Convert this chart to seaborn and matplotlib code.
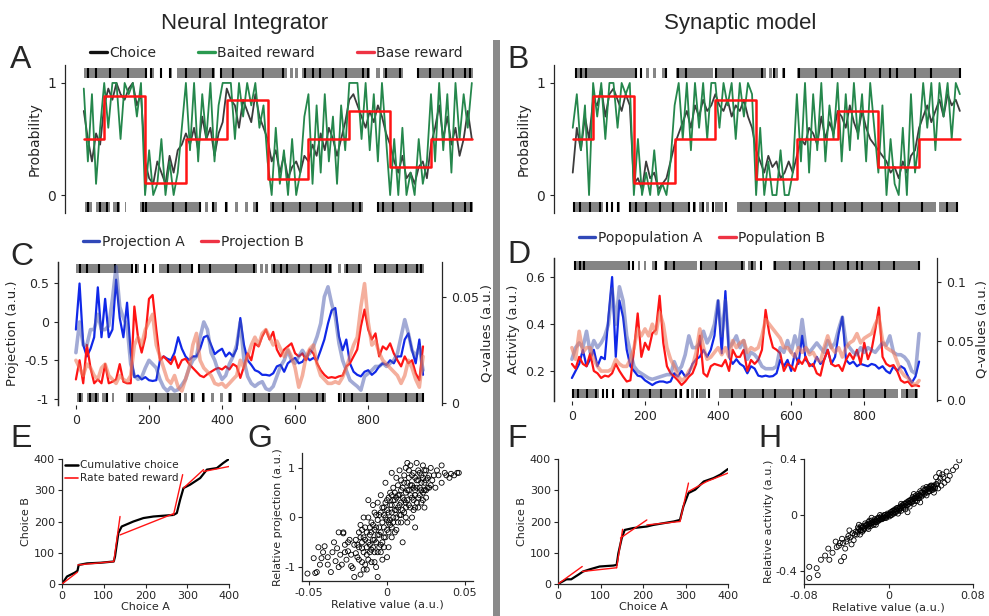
import numpy as np
import pandas as pd
import matplotlib
matplotlib.use("Agg")
import matplotlib.pyplot as plt
from matplotlib.lines import Line2D
from matplotlib.patches import Rectangle
import seaborn as sns

W, H = 989, 616

# ---------------- data ----------------
trials = np.arange(0, 960, 10)
block_edges = [0, 50, 150, 250, 350, 450, 550, 650, 750, 850, 950]
base_reward = [0.5, 0.88, 0.11, 0.5, 0.85, 0.14, 0.5, 0.75, 0.25, 0.5]

# neural integrator session
choice_ni = [0.75, 0.5, 0.3, 0.55, 0.45,
             0.8, 0.95, 0.85, 1.0, 0.9, 0.85, 0.95, 1.0, 0.8, 0.9,
             0.3, 0.15, 0.1, 0.3, 0.2, 0.1, 0.35, 0.2, 0.4, 0.45,
             0.55, 0.45, 0.6, 0.4, 0.7, 0.5, 0.6, 0.35, 0.55, 0.65,
             0.95, 0.85, 0.8, 0.6, 0.85, 0.75, 0.65, 0.9, 0.7, 0.6,
             0.5, 0.3, 0.4, 0.2, 0.35, 0.15, 0.25, 0.3, 0.2, 0.35,
             0.3, 0.45, 0.35, 0.55, 0.4, 0.6, 0.5, 0.35, 0.5, 0.65,
             0.85, 0.9, 0.8, 0.7, 0.6, 0.75, 0.65, 0.8, 0.7, 0.55,
             0.45, 0.3, 0.2, 0.35, 0.15, 0.2, 0.1, 0.25, 0.3, 0.15,
             0.45, 0.6, 0.8, 0.5, 0.7, 0.45, 0.6, 0.35, 0.5, 0.75, 0.5]
baited_ni = [0.95, 0.3, 0.9, 0.1, 0.6,
             1.0, 0.6, 1.0, 1.0, 0.5, 1.0, 0.9, 1.0, 0.7, 1.0,
             0.0, 0.4, 0.0, 0.1, 0.5, 0.0, 0.3, 0.0, 0.2, 0.6,
             1.0, 0.4, 1.0, 0.3, 0.9, 0.5, 1.0, 0.3, 0.8, 1.0,
             1.0, 1.0, 0.5, 1.0, 0.7, 1.0, 0.8, 1.0, 0.6, 0.8,
             0.3, 0.0, 0.6, 0.1, 0.4, 0.0, 0.5, 0.0, 0.2, 0.7,
             0.9, 0.1, 0.8, 0.2, 0.9, 0.3, 0.7, 0.1, 0.8, 0.4,
             1.0, 1.0, 1.0, 0.5, 1.0, 0.4, 0.9, 0.3, 1.0, 0.5,
             0.0, 0.5, 0.0, 0.6, 0.0, 0.2, 0.0, 0.5, 0.1, 0.3,
             0.9, 0.3, 1.0, 0.4, 0.9, 0.2, 1.0, 0.5, 0.9, 0.6, 1.0]
proj_a = [-0.1, 0.5, -0.3, -0.45, -0.35, -0.2, 0.45, -0.2, 0.3, -0.2,
          -0.1, 0.55, 0.05, -0.2, 0.25, -0.4, -0.72, -0.7, -0.75, -0.72,
          -0.76, -0.77, -0.76, -0.5, -0.45, -0.48, -0.5, -0.4, -0.2, -0.35,
          -0.45, -0.5, -0.45, -0.45, -0.35, -0.2, -0.18, -0.3, -0.42, -0.38,
          -0.35, -0.45, -0.4, -0.45, -0.35, 0.05, -0.3, -0.5, -0.56, -0.63,
          -0.65, -0.69, -0.69, -0.7, -0.67, -0.58, -0.56, -0.65, -0.54, -0.5,
          -0.47, -0.54, -0.52, -0.45, -0.5, -0.47, -0.5, -0.37, -0.23, -0.02,
          0.15, 0.18, -0.19, -0.37, -0.23, -0.54, -0.65, -0.69, -0.71, -0.65,
          -0.63, -0.69, -0.65, -0.58, -0.54, -0.56, -0.5, -0.54, -0.45, -0.45,
          -0.23, -0.15, -0.37, -0.54, -0.23, -0.69]
proj_b = [-0.75, -0.5, -0.8, -0.3, -0.6, -0.8, -0.75, -0.8, -0.55, -0.8,
          -0.78, -0.75, -0.55, -0.78, -0.8, -0.8, 0.2, -0.2, -0.4, -0.2,
          0.3, 0.35, -0.1, -0.5, -0.45, -0.5, -0.55, -0.45, -0.6, -0.5,
          -0.48, -0.55, -0.6, -0.65, -0.7, -0.72, -0.68, -0.65, -0.62, -0.6,
          -0.62, -0.58, -0.62, -0.55, -0.58, -0.73, -0.58, -0.41, -0.5, -0.28,
          -0.32, -0.19, -0.1, -0.23, -0.13, -0.36, -0.45, -0.36, -0.32, -0.28,
          -0.41, -0.45, -0.41, -0.5, -0.36, -0.41, -0.54, -0.63, -0.69, -0.73,
          -0.72, -0.73, -0.71, -0.7, -0.58, -0.54, -0.45, -0.36, -0.06, 0.16,
          -0.1, -0.23, -0.15, -0.45, -0.32, -0.36, -0.28, -0.41, -0.5, -0.58,
          -0.45, -0.54, -0.5, -0.67, -0.76, -0.32]
qval_a_ni = [0.0239, 0.0384, 0.0275, 0.0275, 0.0348, 0.0348, 0.042, 0.0348, 0.0348, 0.0366,
             0.0493, 0.0645, 0.0456, 0.0402, 0.0366, 0.0185, 0.0131, 0.0113, 0.0123, 0.0167,
             0.0203, 0.0185, 0.0167, 0.0113, 0.0076, 0.0058, 0.0076, 0.0058, 0.0065, 0.0087,
             0.0113, 0.0167, 0.0203, 0.0221, 0.0312, 0.0384, 0.0348, 0.0239, 0.0203, 0.0149,
             0.0113, 0.0131, 0.0185, 0.0221, 0.0275, 0.0384, 0.0203, 0.0127, 0.0094, 0.008,
             0.0094, 0.0102, 0.0069, 0.0062, 0.008, 0.0127, 0.0174, 0.0203, 0.025, 0.0203,
             0.0189, 0.0221, 0.025, 0.0221, 0.0236, 0.0268, 0.0315, 0.0377, 0.0503, 0.055,
             0.047, 0.0409, 0.0283, 0.0203, 0.0156, 0.0109, 0.0094, 0.008, 0.0062, 0.0127,
             0.0141, 0.0156, 0.0174, 0.0174, 0.0189, 0.0174, 0.0189, 0.0203, 0.0236, 0.0315,
             0.0395, 0.033, 0.025, 0.0221, 0.0268, 0.0156]
qval_b_ni = [0.0203, 0.0167, 0.0131, 0.0185, 0.0167, 0.0131, 0.0113, 0.0167, 0.0185, 0.0131,
             0.0113, 0.0094, 0.0131, 0.0113, 0.0102, 0.0131, 0.0275, 0.0312, 0.0275, 0.0348,
             0.0384, 0.042, 0.0275, 0.0221, 0.0167, 0.0113, 0.0094, 0.0131, 0.0076, 0.0058,
             0.0113, 0.0167, 0.0275, 0.033, 0.0203, 0.0167, 0.0149, 0.0131, 0.0094, 0.0087,
             0.0094, 0.0076, 0.0094, 0.0113, 0.0131, 0.0203, 0.0167, 0.0221, 0.0275, 0.0312,
             0.0275, 0.033, 0.0348, 0.0312, 0.0275, 0.0294, 0.0257, 0.0221, 0.0257, 0.0221,
             0.0167, 0.0076, 0.0131, 0.0221, 0.0257, 0.0275, 0.0185, 0.0131, 0.0113, 0.0094,
             0.0094, 0.0102, 0.0094, 0.0123, 0.0167, 0.0221, 0.0275, 0.0312, 0.0456, 0.0565,
             0.0384, 0.0275, 0.0294, 0.0239, 0.0203, 0.0185, 0.0167, 0.0149, 0.0131, 0.0094,
             0.0131, 0.0203, 0.0167, 0.0113, 0.0076, 0.0221]
ni_top_runs = [(0, 153), (166, 172), (188, 192), (211, 215), (227, 321), (333, 497),
               (505, 511), (517, 525), (533, 700), (716, 725), (733, 782), (819, 952)]
ni_top_rew = [11, 31, 64, 108, 153, 165, 190, 212, 251, 284, 317, 337, 366, 439, 488,
              541, 561, 578, 610, 643, 684, 696, 741, 774, 819, 847, 880, 904, 933, 945]
ni_bot_runs = [(2, 19), (31, 64), (72, 88), (100, 104), (137, 288), (296, 304), (317, 325),
               (349, 353), (370, 378), (394, 402), (415, 427), (455, 684), (717, 729), (733, 952)]
ni_bot_rew = [11, 39, 56, 84, 145, 153, 219, 251, 284, 317, 349, 423, 464, 488, 529,
              570, 610, 659, 676, 721, 733, 757, 798, 855, 904, 933, 949]

# synaptic model session
choice_sm = [0.2, 0.6, 0.4, 0.7, 0.5,
             0.85, 0.8, 0.95, 0.7, 0.9, 0.95, 0.85, 0.75, 0.9, 0.8,
             0.1, 0.15, 0.05, 0.3, 0.15, 0.2, 0.05, 0.1, 0.15, 0.3,
             0.45, 0.55, 0.65, 0.75, 0.6, 0.8, 0.7, 0.85, 0.75, 0.8,
             0.9, 0.8, 0.75, 0.85, 0.7, 0.8, 0.75, 0.85, 0.7, 0.6,
             0.4, 0.3, 0.2, 0.35, 0.25, 0.3, 0.15, 0.2, 0.3, 0.2,
             0.35, 0.5, 0.45, 0.6, 0.55, 0.45, 0.7, 0.5, 0.65, 0.55,
             0.75, 0.7, 0.6, 0.8, 0.65, 0.55, 0.75, 0.6, 0.5, 0.45,
             0.4, 0.35, 0.3, 0.2, 0.25, 0.15, 0.3, 0.2, 0.35, 0.4,
             0.6, 0.7, 0.8, 0.65, 0.75, 0.85, 0.7, 0.9, 0.8, 0.85, 0.75]
baited_sm = [0.6, 0.9, 0.4, 0.8, 0.0,
             1.0, 0.7, 1.0, 0.5, 1.0, 1.0, 0.6, 1.0, 0.9, 1.0,
             0.0, 0.5, 0.0, 0.2, 0.0, 0.4, 0.0, 0.1, 0.0, 0.3,
             0.8, 1.0, 0.5, 1.0, 0.4, 1.0, 0.6, 1.0, 0.5, 1.0,
             1.0, 0.6, 1.0, 0.8, 1.0, 0.5, 1.0, 0.7, 1.0, 0.9,
             0.0, 0.6, 0.0, 0.3, 0.0, 0.0, 0.4, 0.0, 0.0, 0.2,
             0.9, 0.3, 1.0, 0.2, 0.9, 0.4, 1.0, 0.3, 0.8, 0.5,
             1.0, 0.3, 0.9, 0.4, 1.0, 0.5, 0.9, 0.3, 1.0, 0.6,
             0.2, 0.8, 0.0, 0.5, 0.1, 0.0, 0.6, 0.0, 0.9, 0.2,
             0.5, 1.0, 0.6, 1.0, 0.4, 1.0, 0.7, 1.0, 0.5, 1.0, 0.9]
act_a = [0.17, 0.2, 0.23, 0.29, 0.22, 0.25, 0.29, 0.22, 0.26, 0.25,
         0.43, 0.6, 0.26, 0.5, 0.43, 0.29, 0.22, 0.2, 0.18, 0.176,
         0.16, 0.15, 0.14, 0.15, 0.155, 0.155, 0.15, 0.155, 0.19, 0.176,
         0.2, 0.176, 0.19, 0.23, 0.25, 0.26, 0.29, 0.26, 0.29, 0.35,
         0.5, 0.275, 0.54, 0.26, 0.23, 0.25, 0.23, 0.22, 0.19, 0.22,
         0.21, 0.18, 0.176, 0.18, 0.176, 0.178, 0.19, 0.247, 0.22, 0.247,
         0.2, 0.275, 0.23, 0.35, 0.247, 0.23, 0.22, 0.26, 0.23, 0.247,
         0.29, 0.23, 0.26, 0.36, 0.43, 0.247, 0.23, 0.24, 0.22, 0.23,
         0.225, 0.22, 0.23, 0.225, 0.21, 0.22, 0.2, 0.19, 0.22, 0.2,
         0.22, 0.21, 0.176, 0.15, 0.176, 0.24]
act_b = [0.23, 0.21, 0.26, 0.23, 0.22, 0.275, 0.2, 0.19, 0.17, 0.18,
         0.176, 0.19, 0.23, 0.2, 0.176, 0.155, 0.16, 0.29, 0.445, 0.26,
         0.32, 0.29, 0.36, 0.375, 0.52, 0.32, 0.22, 0.19, 0.176, 0.16,
         0.14, 0.155, 0.176, 0.19, 0.23, 0.35, 0.19, 0.176, 0.22, 0.23,
         0.225, 0.22, 0.247, 0.2, 0.29, 0.26, 0.26, 0.29, 0.2, 0.247,
         0.23, 0.247, 0.29, 0.46, 0.36, 0.3, 0.29, 0.275, 0.2, 0.23,
         0.22, 0.2, 0.247, 0.23, 0.26, 0.22, 0.23, 0.19, 0.18, 0.247,
         0.29, 0.23, 0.22, 0.225, 0.2, 0.247, 0.275, 0.25, 0.29, 0.23,
         0.32, 0.25, 0.29, 0.375, 0.47, 0.26, 0.23, 0.22, 0.225, 0.2,
         0.16, 0.15, 0.155, 0.135, 0.14, 0.135]
qval_a_sm = [0.0346, 0.0445, 0.0485, 0.0445, 0.0584, 0.0405, 0.0505, 0.0445, 0.0485, 0.0545,
             0.0644, 0.0943, 0.0644, 0.0962, 0.0843, 0.0545, 0.0405, 0.0286, 0.0246, 0.0226,
             0.0206, 0.0186, 0.0176, 0.0186, 0.0196, 0.0206, 0.0216, 0.0216, 0.0326, 0.0246,
             0.0286, 0.0385, 0.0545, 0.0445, 0.0445, 0.0485, 0.0584, 0.0485, 0.0545, 0.0644,
             0.0843, 0.0545, 0.0843, 0.0445, 0.0485, 0.0545, 0.0445, 0.0505, 0.0346, 0.0405,
             0.0385, 0.0346, 0.0286, 0.0266, 0.0266, 0.0266, 0.0286, 0.0445, 0.0405, 0.0505,
             0.0405, 0.0545, 0.0445, 0.0684, 0.0445, 0.0405, 0.0445, 0.0485, 0.0445, 0.0405,
             0.0505, 0.0445, 0.0485, 0.0604, 0.0704, 0.0485, 0.0445, 0.0405, 0.0385, 0.0445,
             0.0405, 0.0445, 0.0425, 0.0405, 0.0445, 0.0485, 0.0465, 0.0545, 0.0405, 0.0385,
             0.0385, 0.0365, 0.0326, 0.0246, 0.0226, 0.0564]
qval_b_sm = [0.0445, 0.0346, 0.0584, 0.0405, 0.0445, 0.0445, 0.0346, 0.0286, 0.0246, 0.0246,
             0.0246, 0.0266, 0.0346, 0.0306, 0.0286, 0.0286, 0.0346, 0.0445, 0.0604, 0.0545,
             0.0604, 0.0545, 0.0644, 0.0564, 0.0744, 0.0644, 0.0445, 0.0346, 0.0286, 0.0206,
             0.0166, 0.0186, 0.0246, 0.0286, 0.0405, 0.0604, 0.0445, 0.0346, 0.0365, 0.0405,
             0.0445, 0.0385, 0.0445, 0.0365, 0.0505, 0.0445, 0.0485, 0.0505, 0.0405, 0.0445,
             0.0425, 0.0445, 0.0545, 0.0684, 0.0644, 0.0604, 0.0564, 0.0525, 0.0445, 0.0445,
             0.0405, 0.0365, 0.0445, 0.0405, 0.0445, 0.0385, 0.0405, 0.0346, 0.0326, 0.0445,
             0.0545, 0.0445, 0.0405, 0.0445, 0.0365, 0.0445, 0.0485, 0.0505, 0.0564, 0.0485,
             0.0525, 0.0545, 0.0564, 0.0644, 0.0704, 0.0505, 0.0445, 0.0425, 0.0405, 0.0326,
             0.0246, 0.0206, 0.0186, 0.0147, 0.0127, 0.0166]
sm_top_runs = [(5, 156), (164, 171), (180, 186), (198, 204), (220, 229), (253, 343),
               (350, 474), (482, 490), (496, 504), (514, 521), (551, 950)]
sm_top_rew = [9, 21, 33, 155, 168, 229, 258, 278, 352, 393, 465, 494, 518, 555, 596,
              636, 677, 718, 755, 779, 795, 840, 880, 950]
sm_bot_runs = [(1, 74), (82, 86), (95, 99), (111, 115), (139, 286), (294, 302), (311, 319),
               (327, 335), (348, 368), (402, 892), (900, 946)]
sm_bot_rew = [2, 17, 42, 66, 84, 97, 112, 141, 156, 180, 213, 245, 286, 298, 319, 343,
              376, 437, 474, 522, 555, 604, 636, 669, 710, 759, 800, 857, 918, 942]

# cumulative choices (E, F)
cum_a_ni = [0, 12, 24, 30, 37, 40, 60, 92, 124, 127, 135, 143, 171, 195, 219, 267, 275,
            283, 291, 307, 331, 347, 371, 386, 400]
cum_b_ni = [0, 24, 32, 36, 42, 61, 66, 68, 72, 88, 163, 184, 200, 211, 216, 221, 227,
            270, 307, 318, 339, 366, 371, 387, 400]
rate_x0_ni = [0, 38, 124, 139, 267, 291, 339]
rate_y0_ni = [0, 61, 72, 157, 221, 307, 360]
rate_x1_ni = [37, 124, 139, 267, 289, 339, 400]
rate_y1_ni = [38, 72, 216, 225, 350, 366, 376]
cum_a_sm = [0, 20, 31, 47, 59, 75, 98, 130, 138, 142, 150, 157, 177, 209, 224, 272, 287,
            295, 307, 323, 343, 366, 382, 400]
cum_b_sm = [0, 15, 15, 29, 40, 47, 56, 59, 61, 98, 147, 173, 179, 184, 189, 200, 205,
            248, 291, 302, 328, 339, 350, 368]
rate_x0_sm = [0, 57, 138, 147, 209, 287, 307, 350]
rate_y0_sm = [0, 40, 52, 147, 189, 200, 296, 328]
rate_x1_sm = [57, 138, 152, 209, 287, 307, 350, 400]
rate_y1_sm = [56, 52, 175, 205, 200, 323, 328, 355]

# scatter G
rel_value_g = [-0.051, -0.046, -0.045, -0.042, -0.044, -0.040, -0.038, -0.036, -0.035, -0.033,
               -0.032, -0.030, -0.029, -0.028, -0.027, -0.026, -0.025, -0.024, -0.023, -0.022,
               -0.021, -0.020, -0.038, -0.034, -0.031, -0.041, -0.047, -0.043, -0.031, -0.028,
               -0.019, -0.018, -0.018, -0.017, -0.016, -0.015, -0.015, -0.014, -0.013, -0.012,
               -0.012, -0.011, -0.010, -0.010, -0.009, -0.017, -0.014, -0.011, -0.016,
               -0.008, -0.008, -0.007, -0.006, -0.006, -0.005, -0.005, -0.004, -0.004, -0.003,
               -0.003, -0.002, -0.002, -0.001, -0.001, 0.000, 0.000, 0.001, 0.001, 0.002,
               0.002, 0.003, 0.003, 0.004, 0.004, 0.005, 0.005, 0.006, 0.006, 0.007,
               0.007, 0.008, 0.008, 0.009, 0.009, -0.009, -0.007, 0.000, -0.012, -0.015,
               0.010, 0.003, -0.006, -0.013,
               0.010, 0.011, 0.011, 0.012, 0.012, 0.013, 0.013, 0.014, 0.014, 0.015,
               0.015, 0.016, 0.016, 0.017, 0.017, 0.018, 0.018, 0.019, 0.019, 0.020,
               0.020, 0.021, 0.022, 0.022, 0.023, 0.023, 0.024, 0.025, 0.025, 0.026,
               0.027, 0.028, 0.029, 0.018, 0.024, 0.013,
               0.031, 0.033, 0.035, 0.035, 0.037, 0.038, 0.040, 0.041, 0.043, 0.045,
               0.046, 0.032, 0.030,
               -0.020, -0.019, -0.018, -0.017, -0.016, -0.015, -0.014, -0.013, -0.012, -0.011,
               -0.010, -0.010, -0.009, -0.009, -0.008, -0.008, -0.007, -0.007, -0.006, -0.006,
               -0.005, -0.005, -0.004, -0.004, -0.003, -0.003, -0.002, -0.002, -0.001, -0.001,
               0.000, 0.000, 0.001, 0.001, 0.002, 0.002, 0.003, 0.003, 0.004, 0.004,
               0.005, 0.005, 0.006, 0.006, 0.007, 0.007, 0.008, 0.008, 0.009, 0.009,
               0.010, 0.010, 0.011, 0.011, 0.012, 0.012, 0.013, 0.013, 0.014, 0.014,
               0.015, 0.015, 0.016, 0.016, 0.017, 0.017, 0.018, 0.018, 0.019, 0.019,
               0.020, 0.020, 0.021, 0.021, 0.022, 0.022, 0.023, 0.023, 0.024, 0.024,
               0.025, 0.025, 0.026, 0.027, 0.028, -0.016, -0.013, -0.011, -0.008, -0.004,
               -0.002, 0.001, 0.003, 0.006, 0.009, 0.012, -0.021, -0.023, -0.025, -0.027]
rel_proj_g = [-1.13, -1.12, -1.10, -0.82, -0.60, -0.58, -0.95, -1.10, -0.70, -0.88,
              -0.62, -0.75, -0.95, -0.30, -0.55, -0.85, -0.68, -0.45, -0.98, -1.02,
              -1.20, -0.72, -0.80, -0.50, -1.00, -0.70, -0.82, -0.95, -0.30, -0.32,
              -0.55, -0.30, -0.85, -0.15, -0.62, -1.05, -0.40, -0.20, -0.75, -0.50,
              0.00, -0.35, -0.90, -0.10, -0.60, -1.15, -0.95, -0.70, -0.25,
              -0.45, 0.10, -0.20, -0.70, 0.30, -0.35, 0.05, -0.55, 0.45, -0.10,
              -0.85, 0.20, -0.40, 0.00, 0.70, -0.25, 0.35, -0.60, 0.10, 0.50,
              -0.15, 0.25, -0.40, 0.60, 0.00, 0.35, -0.30, 0.15, 0.80, -0.10,
              0.45, 0.25, 0.95, 0.05, 0.55, 0.25, -1.00, -0.80, 0.35, 0.00,
              -0.50, 0.90, -1.20, -1.05,
              0.40, 0.70, 0.10, 0.30, 1.00, 0.55, -0.10, 0.80, 0.25, 0.45,
              1.05, 0.65, 0.00, 0.35, 0.90, 0.55, 0.20, 0.75, 1.10, 0.40,
              0.95, 0.60, 0.30, 0.85, 0.50, 1.05, 0.70, 0.55, 0.95, 0.80,
              0.60, 1.00, 0.75, -0.20, 0.20, 1.10,
              0.60, 0.85, 1.05, 0.70, 0.90, 0.85, 0.80, 0.88, 0.85, 0.90,
              0.90, 0.95, 0.85,
              -0.45, -0.80, -0.60, -0.40, -0.90, -0.70, -0.45, -0.30, -0.85, -0.55,
              -0.30, -0.65, -0.45, -0.15, -0.70, -0.25, -0.50, 0.05, -0.35, -0.05,
              -0.60, -0.20, -0.30, 0.10, -0.50, 0.20, -0.20, 0.05, -0.40, 0.30,
              -0.05, 0.15, -0.30, 0.40, -0.05, 0.25, 0.10, -0.20, 0.35, -0.10,
              0.50, 0.15, 0.00, 0.40, 0.20, 0.65, 0.05, 0.45, 0.30, 0.75,
              0.15, 0.60, 0.35, 0.85, 0.50, 0.20, 0.70, 0.35, 0.55, 0.95,
              0.20, 0.65, 0.40, 0.85, 0.60, 0.15, 0.80, 0.45, 0.30, 0.60,
              0.75, 0.20, 0.45, 0.90, 0.55, 0.70, 0.35, 0.80, 0.55, 0.95,
              0.40, 0.75, 0.60, 0.85, 0.65, -0.50, -0.60, -0.20, -0.90, -0.70,
              -0.60, -0.10, 0.45, -0.25, -0.10, 0.00, -0.55, -0.75, -0.50, -0.70]

# scatter H
rel_value_h = [-0.075, -0.067, -0.075, -0.068, -0.064, -0.060, -0.056, -0.053, -0.057, -0.049,
               -0.042, -0.045, -0.046, -0.040, -0.035, -0.038, -0.034, -0.031, -0.027, -0.050,
               -0.044, -0.041, -0.037, -0.033, -0.029,
               -0.030, -0.028, -0.026, -0.025, -0.024, -0.023, -0.022, -0.021, -0.020, -0.019,
               -0.018, -0.017, -0.016, -0.015, -0.014, -0.013, -0.012, -0.011, -0.010, -0.009,
               -0.008, -0.007, -0.006, -0.005, -0.004, -0.003, -0.002, -0.001, -0.026, -0.019,
               -0.012, -0.008, -0.016,
               0.000, 0.001, 0.002, 0.003, 0.004, 0.005, 0.006, 0.007, 0.008, 0.009,
               0.010, 0.011, 0.012, 0.013, 0.014, 0.015, 0.016, 0.017, 0.018, 0.019,
               0.020, 0.021, 0.022, 0.023, 0.024, 0.025, 0.026, 0.027, 0.028, 0.029,
               0.030, 0.031, 0.032, 0.033, 0.034, 0.035, 0.036, 0.037, 0.038, 0.039,
               0.040, 0.041, 0.042, 0.043, 0.044, 0.045, 0.012, 0.018, 0.024, 0.030, 0.036,
               0.047, 0.045, 0.048, 0.051, 0.055, 0.050, 0.053, 0.061, 0.064, 0.067,
               0.047, 0.056,
               -0.029, -0.027, -0.025, -0.023, -0.022, -0.020, -0.019, -0.017, -0.016, -0.015,
               -0.013, -0.012, -0.011, -0.010, -0.009, -0.007, -0.006, -0.005, -0.004, -0.003,
               -0.002, -0.001, -0.032, -0.036, -0.039, -0.043, -0.047, -0.028, -0.024, -0.018,
               0.001, 0.002, 0.003, 0.004, 0.005, 0.006, 0.007, 0.008, 0.009, 0.010,
               0.011, 0.012, 0.013, 0.014, 0.015, 0.016, 0.017, 0.018, 0.019, 0.020,
               0.021, 0.022, 0.023, 0.024, 0.025, 0.026, 0.027, 0.028, 0.029, 0.030,
               0.031, 0.032, 0.033, 0.034, 0.035, 0.036, 0.037, 0.038, 0.039, 0.040,
               0.041, 0.042, 0.043, 0.044, 0.046, 0.049, 0.052, 0.058]
rel_act_h = [-0.45, -0.43, -0.37, -0.38, -0.32, -0.29, -0.32, -0.27, -0.24, -0.23,
             -0.30, -0.33, -0.20, -0.19, -0.21, -0.15, -0.13, -0.12, -0.14, -0.19,
             -0.17, -0.24, -0.11, -0.18, -0.09,
             -0.14, -0.10, -0.08, -0.12, -0.08, -0.10, -0.06, -0.07, -0.09, -0.05,
             -0.06, -0.08, -0.04, -0.05, -0.07, -0.03, -0.04, -0.05, -0.02, -0.04,
             -0.03, -0.01, -0.03, -0.02, 0.00, -0.02, -0.01, 0.01, -0.11, -0.10,
             -0.07, 0.00, -0.02,
             0.00, -0.01, 0.02, 0.00, 0.03, 0.01, 0.04, 0.02, 0.05, 0.01,
             0.04, 0.06, 0.03, 0.07, 0.05, 0.08, 0.04, 0.09, 0.07, 0.10,
             0.06, 0.11, 0.09, 0.13, 0.08, 0.12, 0.14, 0.10, 0.15, 0.12,
             0.17, 0.13, 0.16, 0.19, 0.15, 0.18, 0.20, 0.16, 0.19, 0.17,
             0.21, 0.18, 0.20, 0.16, 0.19, 0.22, 0.08, 0.02, 0.15, 0.09, 0.14,
             0.24, 0.27, 0.30, 0.29, 0.31, 0.21, 0.23, 0.32, 0.345, 0.39,
             0.19, 0.25,
             -0.12, -0.11, -0.09, -0.09, -0.08, -0.07, -0.08, -0.06, -0.06, -0.07,
             -0.05, -0.05, -0.03, -0.04, -0.02, -0.03, -0.02, -0.01, -0.02, 0.00,
             -0.02, 0.00, -0.14, -0.16, -0.17, -0.20, -0.22, -0.07, -0.11, -0.04,
             0.01, 0.00, 0.02, 0.01, 0.03, 0.02, 0.04, 0.03, 0.05, 0.03,
             0.05, 0.05, 0.06, 0.07, 0.06, 0.08, 0.07, 0.09, 0.08, 0.10,
             0.09, 0.11, 0.10, 0.12, 0.10, 0.12, 0.13, 0.12, 0.14, 0.14,
             0.16, 0.14, 0.16, 0.18, 0.16, 0.18, 0.19, 0.17, 0.20, 0.19,
             0.21, 0.18, 0.21, 0.20, 0.22, 0.26, 0.27, 0.28]

# ---------------- style ----------------
sns.set_style("ticks")
plt.rcParams["font.family"] = ["DejaVu Sans"]
plt.rcParams["axes.unicode_minus"] = False
plt.rcParams["axes.linewidth"] = 0.9
plt.rcParams["xtick.major.size"] = 3
plt.rcParams["ytick.major.size"] = 3

choice_col = "#3c3c3c"
baited_col = "#25874c"
red = "#ff1414"
blue = "#1028e8"
qa_col = "#4657ad"
qb_col = "#ee7a5c"

fig = plt.figure(figsize=(W / 100, H / 100), dpi=100)


def px_axes(left, top, right, bottom):
    return fig.add_axes([left / W, 1 - bottom / H, (right - left) / W, (bottom - top) / H])


def letter(x, y, s, size=23):
    fig.text(x / W, 1 - y / H, s, fontsize=size, family="Liberation Sans",
             ha="left", va="baseline")


def raster(ax, runs, rewarded, y, h):
    ax.broken_barh([(a, b - a) for a, b in runs], (y - h / 2, h),
                   facecolors="#858585", edgecolor="none", zorder=1)
    ax.eventplot(rewarded, lineoffsets=y, linelengths=h, colors="k",
                 linewidths=1.5, zorder=2)


def prob_panel(rect, choice, baited, top_runs, top_rew, bot_runs, bot_rew, legend):
    ax = px_axes(*rect)
    raster(ax, top_runs, top_rew, 1.09, 0.09)
    raster(ax, bot_runs, bot_rew, -0.105, 0.09)
    sns.lineplot(x=trials, y=choice, color=choice_col, linewidth=1.3, ax=ax)
    sns.lineplot(x=trials, y=baited, color=baited_col, linewidth=1.3, ax=ax)
    sns.lineplot(x=block_edges, y=base_reward + [base_reward[-1]], color=red,
                 linewidth=1.8, drawstyle="steps-post", ax=ax)
    ax.set_xlim(-46, 970)
    ax.set_ylim(-0.16, 1.16)
    ax.set_xticks([])
    ax.set_yticks([0, 1])
    ax.tick_params(labelsize=10)
    ax.set_ylabel("Probability", fontsize=10)
    sns.despine(ax=ax, bottom=True)
    if legend:
        handles = [Line2D([], [], color="#111111", lw=2.4),
                   Line2D([], [], color="#2a9a50", lw=2.4),
                   Line2D([], [], color="#ee3344", lw=2.4)]
        ax.legend(handles, ["Choice", "Baited reward", "Base reward"], ncol=3,
                  loc="center left", bbox_to_anchor=(0.06, 1.083), frameon=False,
                  fontsize=10, handlelength=1.2, handletextpad=0.2,
                  columnspacing=3.0, borderpad=0, borderaxespad=0)
    return ax


def value_panel(rect, sa, sb, qa, qb, xlim, ylim, qlim, runs, ylab, yticks, qticks,
                qlabels, labels):
    ax = px_axes(*rect)
    top_runs, top_rew, bot_runs, bot_rew, ytop, ybot, h = runs
    raster(ax, top_runs, top_rew, ytop, h)
    raster(ax, bot_runs, bot_rew, ybot, h)
    sns.lineplot(x=trials, y=sa, color=blue, linewidth=1.6, ax=ax)
    sns.lineplot(x=trials, y=sb, color=red, linewidth=1.6, ax=ax)
    axq = ax.twinx()
    sns.lineplot(x=trials, y=qa, color=qa_col, alpha=0.5, linewidth=2.6, ax=axq)
    sns.lineplot(x=trials, y=qb, color=qb_col, alpha=0.6, linewidth=2.6, ax=axq)
    ax.set_xlim(*xlim)
    ax.set_ylim(*ylim)
    axq.set_ylim(*qlim)
    ax.set_xticks([0, 200, 400, 600, 800])
    ax.set_yticks(yticks)
    ax.set_yticklabels([("%g" % v) for v in yticks])
    axq.set_yticks(qticks)
    axq.set_yticklabels(qlabels)
    for a in (ax, axq):
        a.tick_params(labelsize=9)
        a.spines["top"].set_visible(False)
        a.spines["bottom"].set_visible(False)
    ax.spines["right"].set_visible(False)
    ax.set_ylabel(ylab, fontsize=9.5)
    axq.set_ylabel("Q-values (a.u.)", fontsize=9.5, labelpad=1)
    handles = [Line2D([], [], color="#3048b8", lw=2.4),
               Line2D([], [], color="#ee3344", lw=2.4)]
    ax.legend(handles, labels, ncol=2, loc="center left",
              bbox_to_anchor=(0.064, 1.14), frameon=False, fontsize=10,
              handlelength=1.2, handletextpad=0.2, columnspacing=1.2,
              borderpad=0, borderaxespad=0)
    return ax


def cumulative_panel(rect, ca, cb, x0, y0, x1, y1, legend):
    ax = px_axes(*rect)
    seg = pd.DataFrame({
        "x": list(x0) + list(x1),
        "y": list(y0) + list(y1),
        "seg": list(range(len(x0))) * 2,
    })
    sns.lineplot(data=seg, x="x", y="y", units="seg", estimator=None, sort=False,
                 color=red, linewidth=1.0, ax=ax, zorder=3)
    sns.lineplot(x=ca, y=cb, sort=False, estimator=None, color="k", linewidth=1.6,
                 ax=ax, zorder=2)
    ax.set_xlim(0, 400)
    ax.set_ylim(0, 400)
    ax.set_xticks([0, 100, 200, 300, 400])
    ax.set_yticks([0, 100, 200, 300, 400])
    ax.tick_params(labelsize=8, pad=2)
    ax.set_xlabel("Choice A", fontsize=8, labelpad=1)
    ax.set_ylabel("Choice B", fontsize=8, labelpad=2)
    sns.despine(ax=ax)
    if legend:
        handles = [Line2D([], [], color="k", lw=1.8), Line2D([], [], color=red, lw=1.2)]
        ax.legend(handles, ["Cumulative choice", "Rate bated reward"], loc="upper left",
                  bbox_to_anchor=(0.015, 0.99), frameon=False, fontsize=7.6,
                  handlelength=1.3, handletextpad=0.2, labelspacing=0.3,
                  borderpad=0, borderaxespad=0)
    return ax


def scatter_panel(rect, xv, yv, xlim, ylim, xticks, xlabels, yticks, ylabels, ylab):
    ax = px_axes(*rect)
    sns.scatterplot(x=xv, y=yv, marker="o", s=13, facecolor="none", edgecolor="k",
                    linewidth=0.6, ax=ax)
    ax.set_xlim(*xlim)
    ax.set_ylim(*ylim)
    ax.set_xticks(xticks)
    ax.set_xticklabels(xlabels)
    ax.set_yticks(yticks)
    ax.set_yticklabels(ylabels)
    ax.tick_params(labelsize=8, pad=2)
    ax.set_xlabel("Relative value (a.u.)", fontsize=8, labelpad=1)
    ax.set_ylabel(ylab, fontsize=8, labelpad=1)
    sns.despine(ax=ax)
    return ax


# ---------------- panels ----------------
prob_panel((65, 65, 480, 213), choice_ni, baited_ni, ni_top_runs, ni_top_rew,
           ni_bot_runs, ni_bot_rew, True)
prob_panel((554, 65, 968, 213), choice_sm, baited_sm, sm_top_runs, sm_top_rew,
           sm_bot_runs, sm_bot_rew, False)

value_panel((58, 262, 442, 405), proj_a, proj_b, qval_a_ni, qval_b_ni,
            (-49, 1002), (-1.083, 0.78), (-0.0008, 0.0667),
            (ni_top_runs, ni_top_rew, ni_bot_runs, ni_bot_rew, 0.70, -0.99, 0.115),
            "Projection (a.u.)", [-1, -0.5, 0, 0.5], [0, 0.05], ["0", "0.05"],
            ["Projection A", "Projection B"])
value_panel((554, 258, 937, 401), act_a, act_b, qval_a_sm, qval_b_sm,
            (-49, 999), (0.072, 0.681), (-0.0008, 0.1206),
            (sm_top_runs, sm_top_rew, sm_bot_runs, sm_bot_rew, 0.651, 0.102, 0.038),
            "Activity (a.u.)", [0.2, 0.4, 0.6], [0.0, 0.05, 0.1], ["0.0", "0.05", "0.1"],
            ["Popopulation A", "Population B"])

cumulative_panel((62, 459, 229, 584), cum_a_ni, cum_b_ni, rate_x0_ni, rate_y0_ni,
                 rate_x1_ni, rate_y1_ni, True)
cumulative_panel((558, 459, 728, 584), cum_a_sm, cum_b_sm, rate_x0_sm, rate_y0_sm,
                 rate_x1_sm, rate_y1_sm, False)

scatter_panel((302, 453, 473, 581), rel_value_g, rel_proj_g, (-0.0545, 0.0551), (-1.28, 1.3),
              [-0.05, 0, 0.05], ["-0.05", "0", "0.05"], [-1, 0, 1], ["-1", "0", "1"],
              "Relative projection (a.u.)")
scatter_panel((804, 459, 973, 584), rel_value_h, rel_act_h, (-0.08, 0.08), (-0.493, 0.4),
              [-0.08, 0, 0.08], ["-0.08", "0", "0.08"], [-0.4, 0, 0.4], ["-0.4", "0", "0.4"],
              "Relative activity (a.u.)")

# titles, divider, letters
fig.text(245 / W, 1 - 29 / H, "Neural Integrator", fontsize=16, family="Liberation Sans",
         ha="center", va="baseline")
fig.text(740 / W, 1 - 29 / H, "Synaptic model", fontsize=16, family="Liberation Sans",
         ha="center", va="baseline")
fig.patches.append(Rectangle((493 / W, 0), 7 / W, 1 - 40 / H, transform=fig.transFigure,
                             facecolor="#8a8a8a", edgecolor="none"))
for x, y, s in [(10, 68, "A"), (507, 68, "B"), (10, 265, "C"), (507, 263, "D"),
                (10, 447, "E"), (247, 447, "G"), (507, 447, "F"), (758, 447, "H")]:
    letter(x, y, s)

fig.savefig("out.png", dpi=100)
